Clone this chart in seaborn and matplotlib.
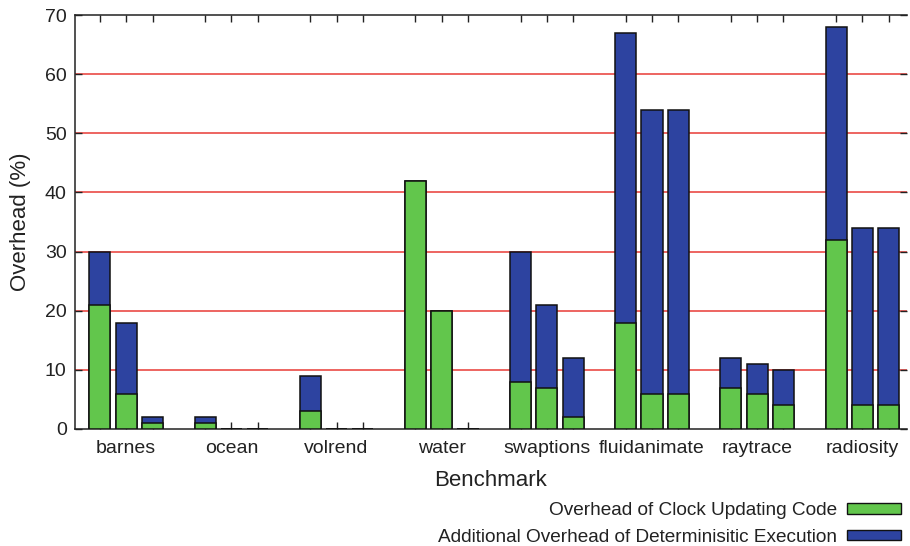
import numpy as np
import pandas as pd
import matplotlib
matplotlib.use("Agg")
import matplotlib.pyplot as plt
from matplotlib.patches import Patch
import seaborn as sns

# benchmarks, three configurations each
benchmarks = ['barnes', 'ocean', 'volrend', 'water', 'swaptions',
              'fluidanimate', 'raytrace', 'radiosity']
clock_overhead = [21, 6, 1,   1, 0, 0,   3, 0, 0,   42, 20, 0,
                  8, 7, 2,   18, 6, 6,   7, 6, 4,   32, 4, 4]
total_overhead = [30, 18, 2,  2, 0, 0,   9, 0, 0,   42, 20, 0,
                  30, 21, 12, 67, 54, 54, 12, 11, 10, 68, 34, 34]
yticks = [0, 10, 20, 30, 40, 50, 60, 70]

green = '#62c64c'
blue = '#2d43a0'

n_cfg = 3
pos = [g * (n_cfg + 1) + i for g in range(len(benchmarks)) for i in range(n_cfg)]
df = pd.DataFrame({'pos': pos, 'clock': clock_overhead, 'total': total_overhead})

sns.set_style('white')
plt.rcParams['font.family'] = ['Liberation Sans', 'DejaVu Sans']

fig = plt.figure(figsize=(9.1, 5.46), dpi=100)
ax = fig.add_axes([0.0824, 0.2143, 0.9143, 0.7582])

# red horizontal grid behind the bars
for y in yticks[1:-1]:
    ax.axhline(y, color='#e83a36', lw=1.1, zorder=0)

sns.barplot(data=df, x='pos', y='total', native_scale=True, color=blue,
            saturation=1, width=0.8, edgecolor='#111111', linewidth=1.1,
            errorbar=None, ax=ax, zorder=2)
sns.barplot(data=df, x='pos', y='clock', native_scale=True, color=green,
            saturation=1, width=0.8, edgecolor='#111111', linewidth=1.1,
            errorbar=None, ax=ax, zorder=3)

ax.set_xlim(-0.95, 30.7)
ax.set_ylim(0, 70)
ax.set_yticks(yticks)
ax.set_yticklabels([str(t) for t in yticks])

# ticks at every bar, labels only under the middle one
ax.set_xticks(pos)
labels = []
for p in pos:
    labels.append(benchmarks[p // (n_cfg + 1)] if p % (n_cfg + 1) == 1 else '')
ax.set_xticklabels(labels)
ax.tick_params(axis='x', direction='in', length=5, width=1, color='#222222',
               top=True, bottom=True, labelsize=14, pad=8)
ax.tick_params(axis='y', direction='in', length=5, width=1, color='#222222',
               left=True, right=True, labelsize=14, pad=6)
for lab in ax.get_xticklabels() + ax.get_yticklabels():
    lab.set_color('#222222')

for side in ['left', 'bottom', 'top']:
    ax.spines[side].set_visible(True)
    ax.spines[side].set_color('#222222')
    ax.spines[side].set_linewidth(1.1)
ax.spines['right'].set_visible(False)

ax.set_xlabel('Benchmark', fontsize=16, color='#222222', labelpad=9)
ax.set_ylabel('Overhead (%)', fontsize=16, color='#222222', labelpad=10)

handles = [Patch(facecolor=green, edgecolor='#111111', lw=1),
           Patch(facecolor=blue, edgecolor='#111111', lw=1)]
fig.legend(handles, ['Overhead of Clock Updating Code',
                     'Additional Overhead of Determinisitic Execution'],
           loc='lower right', bbox_to_anchor=(1.009, -0.031), frameon=False,
           markerfirst=False, fontsize=13.7, handlelength=2.85, handleheight=0.5,
           handletextpad=0.5, labelspacing=0.5, labelcolor='#222222')

fig.savefig('out.png', dpi=100)
